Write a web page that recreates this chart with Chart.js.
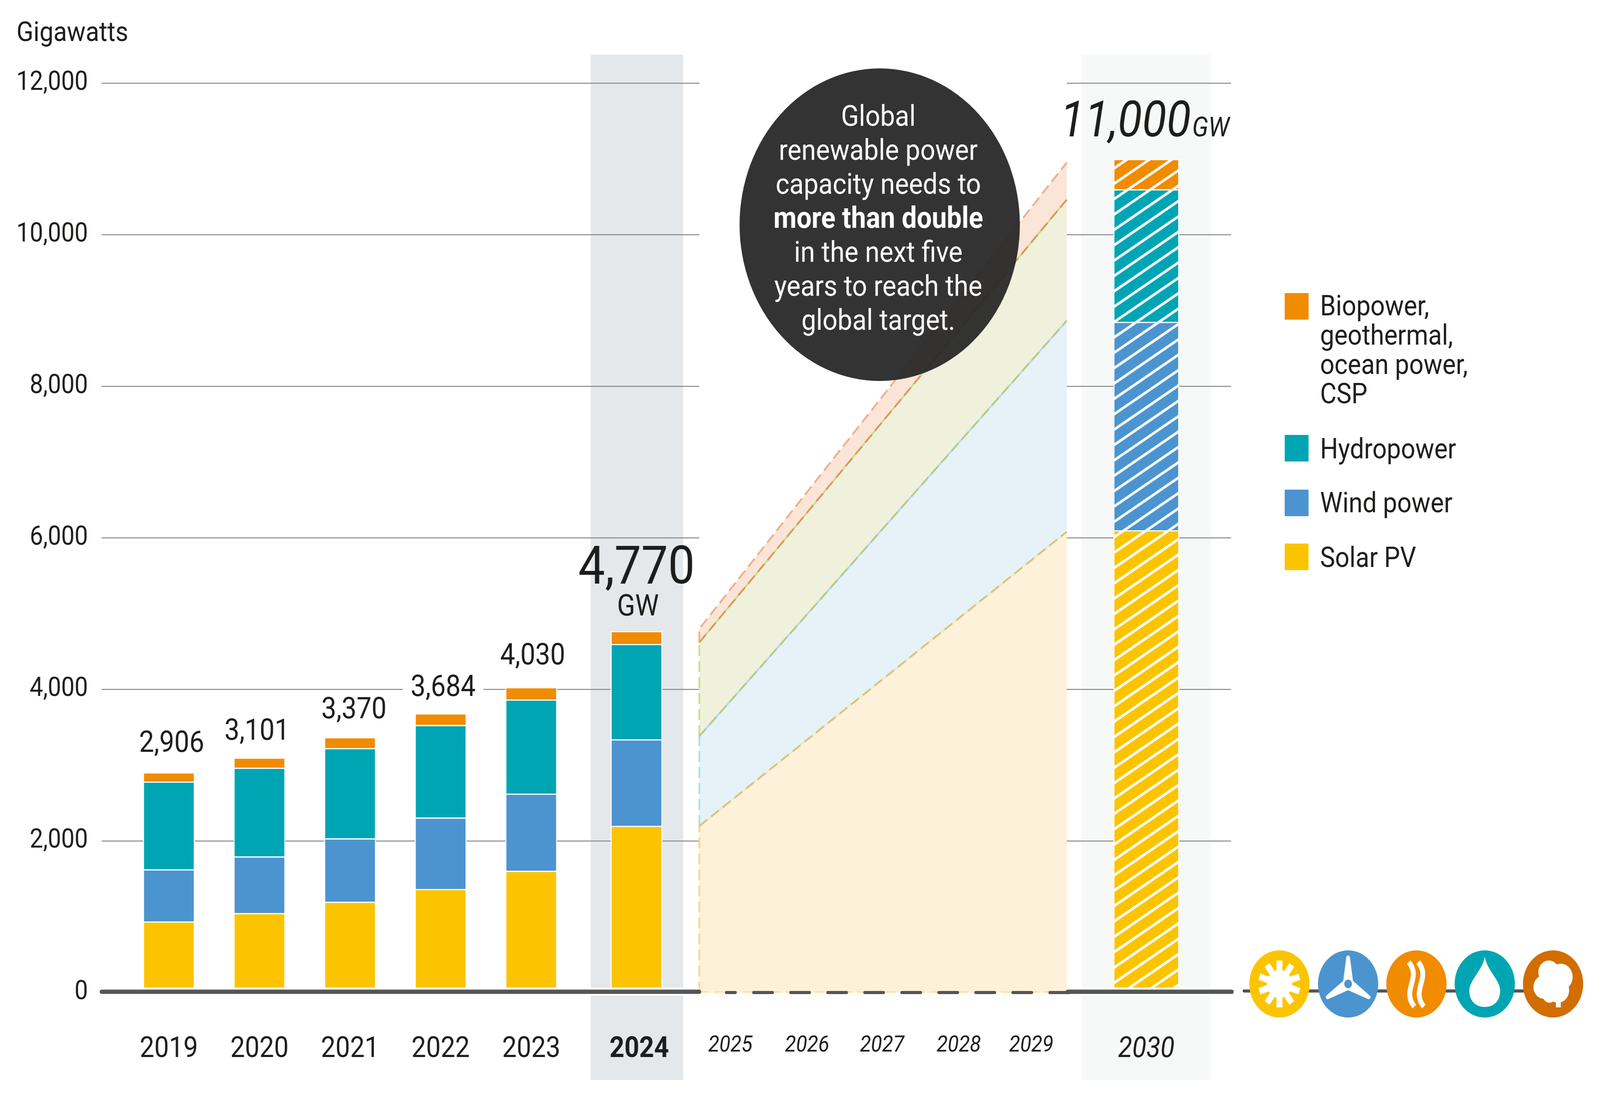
<!DOCTYPE html>
<html>
<head>
<meta charset="utf-8">
<title>Global renewable power capacity</title>
<script src="https://cdn.jsdelivr.net/npm/chart.js@4/dist/chart.umd.min.js"></script>
<style>
  html, body { margin: 0; padding: 0; background: #fff; overflow: hidden; }
  canvas { display: block; }
</style>
</head>
<body>
<!-- drawing surface stays 4567x2815, css fits it to whatever window we really get -->
<canvas id="chart" width="4567" height="2815" style="width:100vw;height:100vh"></canvas>
<script>
// DATA
const histYears = [2019, 2020, 2021, 2022, 2023, 2024];
const solarPV = [938, 1048, 1198, 1367, 1606, 2200];
const windPower = [688, 748, 837, 942, 1019, 1142];
const hydropower = [1159, 1170, 1191, 1221, 1243, 1258];
const bioOther = [121, 135, 144, 154, 162, 170];
const totalLabels = ["2,906", "3,101", "3,370", "3,684", "4,030", "4,770"];

const targetYear = 2030;
const targetSolar = [6100];
const targetWind = [2750];
const targetHydro = [1750];
const targetBio = [400];
const targetLabel = "11,000";

// cumulative top of each band, [start of 2025, end of 2029]
const pathSolar = [2197, 6080];
const pathWind = [3383, 8866];
const pathHydro = [4620, 10464];
const pathBio = [4800, 10954];

const tickYears = [2019, 2020, 2021, 2022, 2023, 2024, 2025, 2026, 2027, 2028, 2029, 2030];
const legendNames = [
    ["Biopower,", "geothermal,", "ocean power,", "CSP"],
    ["Hydropower"],
    ["Wind power"],
    ["Solar PV"]
];
const calloutLines = ["Global", "renewable power", "capacity needs to", "more than double", "in the next five", "years to reach the", "global target."];

// the time axis is broken, so years are mapped to axis units by hand
const axisPos = {
    2019: 0, 2020: 1, 2021: 2, 2022: 3, 2023: 4, 2024: 5.162,
    2025: 6.198, 2026: 7.045, 2027: 7.872, 2028: 8.719, 2029: 9.519, 2030: 10.789
};
const pathStart = 5.855;
const pathEnd = 9.911;

const C = {
    solar: "#fcc400", wind: "#4c94d0", hydro: "#00a5b3", bio: "#f18b00", brown: "#d26d00",
    ink: "#1d1d1b", grid: "#888888", axis: "#555555"
};
const FONT = "Roboto, 'Liberation Sans', sans-serif";

function hatch(color) {
    const tile = document.createElement("canvas");
    tile.width = 64;
    tile.height = 39;
    const t = tile.getContext("2d");
    t.fillStyle = color;
    t.fillRect(0, 0, 64, 39);
    t.strokeStyle = "#fff";
    t.lineWidth = 6.8;
    [-39, 0, 39].forEach(off => {
        t.beginPath();
        t.moveTo(-64, off + 78);
        t.lineTo(128, off - 39);
        t.stroke();
    });
    const p = t.createPattern(tile, "repeat");
    p.setTransform(new DOMMatrix().translate(3181, 2318).scale(1, 39.33 / 39));
    return p;
}

function barSet(label, values, color) {
    return {
        type: "bar", label, stack: "capacity", order: 1,
        data: values.map((v, i) => ({ x: axisPos[histYears[i]], y: v })),
        backgroundColor: color, borderColor: "#fff", borderWidth: 3,
        barThickness: 148, inflateAmount: 0
    };
}

function targetSet(label, values, color) {
    return {
        type: "bar", label, stack: "capacity", order: 1,
        data: values.map(v => ({ x: axisPos[targetYear], y: v })),
        backgroundColor: hatch(color), borderColor: "#fff", borderWidth: 3,
        barThickness: 188, inflateAmount: 0
    };
}

// one band: up the left edge from the band below, then across to 2029
function pathSet(label, top, below, fill, line, edge, order) {
    return {
        type: "line", label, order,
        data: [{ x: pathStart, y: below }, { x: pathStart, y: top[0] }, { x: pathEnd, y: top[1] }],
        fill: "origin", backgroundColor: fill,
        borderColor: line, borderWidth: 5, borderDash: [28, 13],
        pointRadius: 0, tension: 0,
        segment: { borderColor: ctx => ctx.p0DataIndex === 0 ? edge : line }
    };
}

// the neighbouring band's dashes show through in the gaps of the boundary
function seamSet(label, top, color, dash) {
    return {
        type: "line", label, order: 8,
        data: [{ x: pathStart, y: top[0] }, { x: pathEnd, y: top[1] }],
        fill: false, borderColor: color, borderWidth: 5,
        borderDash: dash, borderDashOffset: dash.length ? 13 : 0, pointRadius: 0
    };
}

const datasets = [
    barSet("Solar PV", solarPV, C.solar),
    barSet("Wind power", windPower, C.wind),
    barSet("Hydropower", hydropower, C.hydro),
    barSet("Biopower, geothermal, ocean power, CSP", bioOther, C.bio),
    targetSet("Solar PV 2030", targetSolar, C.solar),
    targetSet("Wind power 2030", targetWind, C.wind),
    targetSet("Hydropower 2030", targetHydro, C.hydro),
    targetSet("Biopower 2030", targetBio, C.bio),
    pathSet("Biopower path", pathBio, pathHydro[0], "#fbe5d8", "#f4ae88", "#f4ae88", 13),
    pathSet("Hydropower path", pathHydro, pathWind[0], "#eff1dd", "#dc9b4e", "#cfdb93", 12),
    pathSet("Wind path", pathWind, pathSolar[0], "#e6f2f8", "#b5ca84", "#b8d9ef", 11),
    pathSet("Solar path", pathSolar, 0, "#fdf1d9", "#dcc37a", "#fbd67c", 10),
    seamSet("Hydropower seam", pathHydro, "#cfdb93", [13, 28]),
    seamSet("Wind seam", pathWind, "#b8d9ef", [13, 28]),
    seamSet("Solar seam", pathSolar, "#e9ecd3", [13, 28]),
    {
        type: "line", label: "Path base", order: 9,
        data: [{ x: pathStart, y: 0 }, { x: pathEnd, y: 0 }],
        borderColor: "#fbd67c", borderWidth: 5, borderDash: [28, 13], pointRadius: 0, fill: false
    }
];

function text(ctx, str, x, y, font, color, align) {
    ctx.font = font;
    ctx.fillStyle = color || C.ink;
    ctx.textAlign = align || "center";
    ctx.textBaseline = "alphabetic";
    ctx.fillText(str, x, y);
}

const backdrop = {
    id: "backdrop",
    beforeDatasetsDraw(chart) {
        const ctx = chart.ctx, x = chart.scales.x, y = chart.scales.y;
        ctx.save();
        ctx.fillStyle = "#e4e8eb";
        ctx.fillRect(x.getPixelForValue(4.656), 140, x.getPixelForValue(5.677) - x.getPixelForValue(4.656), 2624);
        ctx.fillStyle = "#f7f9f8";
        ctx.fillRect(x.getPixelForValue(10.074), 140, x.getPixelForValue(11.5) - x.getPixelForValue(10.074), 2624);
        // grid is broken across the projection
        ctx.strokeStyle = C.grid;
        ctx.lineWidth = 2.5;
        y.ticks.forEach(t => {
            if (t.value === 0) return;
            const py = y.getPixelForValue(t.value);
            ctx.beginPath();
            ctx.moveTo(x.left, py);
            ctx.lineTo(x.getPixelForValue(pathStart), py);
            ctx.moveTo(x.getPixelForValue(pathEnd), py);
            ctx.lineTo(3514, py);
            ctx.stroke();
        });
        ctx.restore();
    }
};

function drawAxis(ctx, y0) {
    ctx.save();
    ctx.fillStyle = "#fff";
    ctx.fillRect(284, y0 - 11, 1712, 21);
    ctx.fillRect(3042, y0 - 11, 478, 21);
    ctx.strokeStyle = C.axis;
    ctx.lineCap = "round";
    ctx.lineWidth = 11;
    ctx.beginPath();
    ctx.moveTo(290, y0);
    ctx.lineTo(1996, y0);
    ctx.moveTo(3047, y0);
    ctx.lineTo(3516, y0);
    ctx.stroke();
    ctx.lineWidth = 8;
    ctx.beginPath();
    ctx.moveTo(2073, y0 + 2);
    ctx.lineTo(2099, y0 + 2);
    for (let dx = 2151; dx < 3030; dx += 105.7) {
        ctx.moveTo(dx, y0 + 2);
        ctx.lineTo(dx + 54, y0 + 2);
    }
    ctx.moveTo(3551, y0 - 2);
    ctx.lineTo(4470, y0 - 2);
    ctx.stroke();
    ctx.restore();
}

function drawIcons(ctx, cy) {
    const r = 86;
    const disc = (cx, color) => {
        ctx.fillStyle = color;
        ctx.beginPath();
        ctx.arc(cx, cy, r, 0, Math.PI * 2);
        ctx.fill();
        ctx.fillStyle = "#fff";
        ctx.strokeStyle = "#fff";
    };
    // sun
    disc(3652, C.solar);
    ctx.beginPath();
    ctx.arc(3652, cy, 36, 0, Math.PI * 2);
    ctx.fill();
    ctx.lineWidth = 17;
    for (let i = 0; i < 10; i++) {
        const a = i * Math.PI / 5 - Math.PI / 2;
        ctx.beginPath();
        ctx.moveTo(3652 + Math.cos(a) * 20, cy + Math.sin(a) * 20);
        ctx.lineTo(3652 + Math.cos(a) * 60, cy + Math.sin(a) * 60);
        ctx.stroke();
    }
    // wind turbine
    disc(3848, C.wind);
    [-90, 30, 150].forEach(deg => {
        ctx.save();
        ctx.translate(3848, cy);
        ctx.rotate(deg * Math.PI / 180);
        ctx.beginPath();
        ctx.moveTo(0, -15);
        ctx.lineTo(70, -5);
        ctx.quadraticCurveTo(76, 0, 70, 5);
        ctx.lineTo(0, 15);
        ctx.fill();
        ctx.restore();
    });
    ctx.fillStyle = C.wind;
    ctx.beginPath();
    ctx.arc(3848, cy, 11, 0, Math.PI * 2);
    ctx.fill();
    // heat waves
    disc(4043, C.bio);
    ctx.lineWidth = 14;
    [-14, 13].forEach(dx => {
        ctx.beginPath();
        ctx.moveTo(4043 + dx - 8, cy - 56);
        ctx.bezierCurveTo(4043 + dx + 30, cy - 15, 4043 + dx - 30, cy + 15, 4043 + dx + 8, cy + 58);
        ctx.stroke();
    });
    // water drop
    disc(4238, C.hydro);
    ctx.beginPath();
    ctx.moveTo(4238, cy - 70);
    ctx.bezierCurveTo(4232, cy - 35, 4194, cy - 10, 4194, cy + 17);
    ctx.bezierCurveTo(4194, cy + 45, 4214, cy + 59, 4238, cy + 59);
    ctx.bezierCurveTo(4262, cy + 59, 4282, cy + 45, 4282, cy + 17);
    ctx.bezierCurveTo(4282, cy - 10, 4244, cy - 35, 4238, cy - 70);
    ctx.fill();
    // biomass tree
    disc(4433, C.brown);
    [[-12, -30, 30], [22, -18, 34], [-26, 8, 30], [14, 16, 32], [-10, 28, 20]].forEach(b => {
        ctx.beginPath();
        ctx.arc(4433 + b[0], cy + b[1], b[2], 0, Math.PI * 2);
        ctx.fill();
    });
    ctx.fillRect(4441, cy + 30, 14, 30);
}

const overlay = {
    id: "overlay",
    afterDatasetsDraw(chart) {
        const ctx = chart.ctx;
        const plain = s => "400 " + s + "px " + FONT;
        ctx.save();
        drawAxis(ctx, 2538);

        // totals sit on the top segment of each bar
        const tops = chart.getDatasetMeta(3).data;
        const nudge = [[8, 52], [-7, 46], [11, 49], [7, 45], [4, 59]];
        nudge.forEach((n, i) => {
            const cx = tops[i].x + n[0], by = tops[i].y - n[1];
            ctx.fillStyle = "#fff";
            if (i === 3) ctx.fillRect(cx - 115, by - 50, 230, 56);
            text(ctx, totalLabels[i], cx, by, plain(76));
        });
        const b24 = tops[5];
        text(ctx, totalLabels[5], b24.x, 1493, plain(136));
        text(ctx, "GW", b24.x + 4, 1575, plain(76));
        text(ctx, targetLabel, 3213, 349, "italic " + plain(128));
        text(ctx, "GW", 3456, 349, "italic " + plain(70));

        text(ctx, "Gigawatts", 47, 105, plain(71), C.ink, "left");

        // callout
        ctx.fillStyle = "rgba(40,40,40,0.95)";
        ctx.beginPath();
        ctx.arc(2511, 575, 400, 0, Math.PI * 2);
        ctx.fill();
        calloutLines.forEach((line, i) => {
            const f = i === 3 ? "700 76px " + FONT : plain(75);
            text(ctx, line, 2507, 322 + i * 87, f, "#fff");
        });

        // legend
        const swatches = [[C.bio, 750, 807], [C.hydro, 1113, 1173], [C.wind, 1253, 1311], [C.solar, 1391, 1451]];
        swatches.forEach((s, i) => {
            ctx.fillStyle = s[0];
            ctx.fillRect(3667, s[1], 68, 68);
            legendNames[i].forEach((line, j) => {
                text(ctx, line, 3768, s[2] + j * 75, plain(72), C.ink, "left");
            });
        });

        drawIcons(ctx, 2518);
        ctx.restore();
    }
};

new Chart(document.getElementById("chart"), {
    data: { datasets },
    plugins: [backdrop, overlay],
    options: {
        responsive: false,
        animation: false,
        devicePixelRatio: 1,
        layout: { padding: { top: 213, left: 0, right: 0, bottom: 0 } },
        plugins: { legend: { display: false }, tooltip: { enabled: false } },
        scales: {
            x: {
                type: "linear", min: -0.7425, max: 15.797, offset: false, bounds: "data",
                grid: { display: false }, border: { display: false },
                afterBuildTicks(scale) {
                    scale.ticks = tickYears.map(yr => ({ value: axisPos[yr] + (yr === 2024 ? 0.03 : 0) }));
                },
                afterFit(scale) { scale.height = 275; },
                ticks: {
                    z: 1, autoSkip: false, maxRotation: 0, minRotation: 0, padding: 94, color: C.ink,
                    callback: (v, i) => String(tickYears[i]),
                    font(ctx) {
                        const yr = tickYears[ctx.index];
                        if (yr === 2024) return { family: FONT, size: 74, weight: "700" };
                        if (yr === 2030) return { family: FONT, size: 74, weight: "400", style: "italic" };
                        if (yr > 2024) return { family: FONT, size: 58, weight: "400", style: "italic" };
                        return { family: FONT, size: 74, weight: "400" };
                    }
                }
            },
            y: {
                min: 0, max: 12000,
                grid: { display: false }, border: { display: false },
                afterFit(scale) { scale.width = 290; },
                ticks: {
                    stepSize: 2000, padding: 31, color: C.ink,
                    font: { family: FONT, size: 68, weight: "400" },
                    callback: v => v.toLocaleString("en-US")
                }
            }
        }
    }
});
</script>
</body>
</html>
